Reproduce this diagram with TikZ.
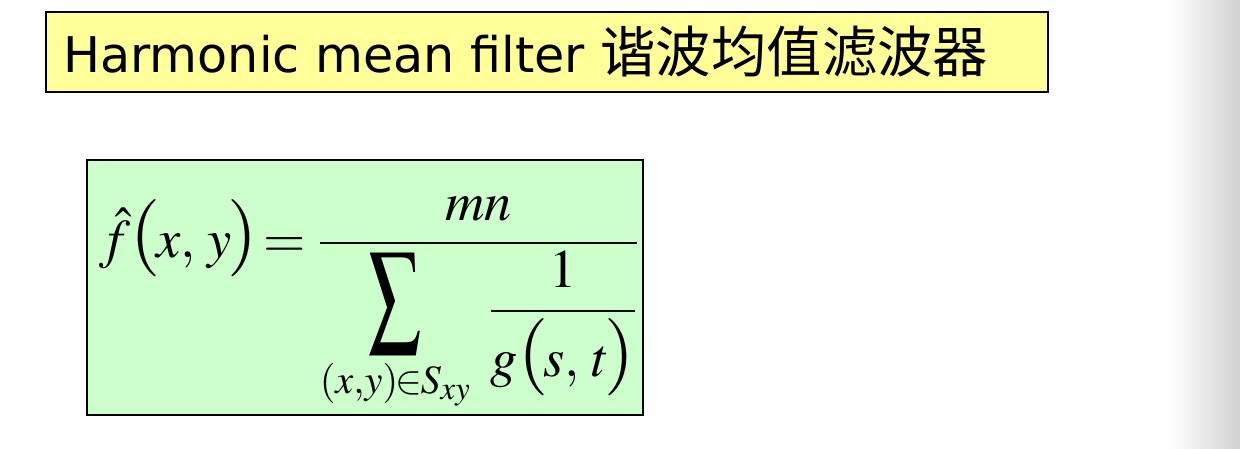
\documentclass[tikz,border=0pt]{standalone}
\usepackage{amsmath}
\usepackage{mathptmx}
\usepackage{fontspec}
\setmainfont{DejaVu Sans}
\newfontfamily\cjk{Noto Sans CJK SC}
\definecolor{titleyellow}{HTML}{FFFF99}
\definecolor{formulagreen}{HTML}{CCFFCC}
% tall round brackets and sum sign as in the reference formula
\newcommand{\tallopen}{\mathopen{\mbox{\fontsize{44}{44}\selectfont$($}}\mkern-1.5mu}
\newcommand{\tallclose}{\mkern-1.5mu\mathclose{\mbox{\fontsize{44}{44}\selectfont$)$}}}
\newcommand{\tallsum}{\mathop{\tikz[baseline=0pt]\node[inner sep=0pt, anchor=base, xscale=0.95, yscale=1.5, transform shape] (sigma) {$\displaystyle\sum$};}}
\begin{document}
\begin{tikzpicture}
        [x=0.02cm, y=-0.02cm,
        panel/.style={draw=black, line width=0.7pt},
        title/.style={anchor=base west, inner sep=0pt, font=\fontsize{28}{34}\selectfont},
        formula/.style={anchor=base west, inner sep=0pt, font=\fontsize{31}{37}\selectfont}]

        \useasboundingbox (0,0) rectangle (1240,449);
        % shadow strip on the right edge
        \shade[left color=white, right color=black!18] (1170,0) rectangle (1240,449);

        % boxes
        \draw[panel, fill=titleyellow] (46,12) rectangle (1048,92);
        \draw[panel, fill=formulagreen] (87,160) rectangle (643,415);

        % title
        \node[title] (heading) at (63,73) {Harmonic mean filter {\cjk\fontsize{31.5}{36}\selectfont 谐波均值滤波器}};

        % formula
        \node[formula] (harmonic) at (99,257)
        {$\displaystyle \hat{f}\tallopen x,\,y\tallclose\!=\frac{mn}{\tallsum\limits_{(x,y)\mkern-1mu{\in}\mkern-1mu S_{xy}}\;\dfrac{1}{g\tallopen s,\,t\tallclose}}$};

        \end{tikzpicture}
\end{document}
